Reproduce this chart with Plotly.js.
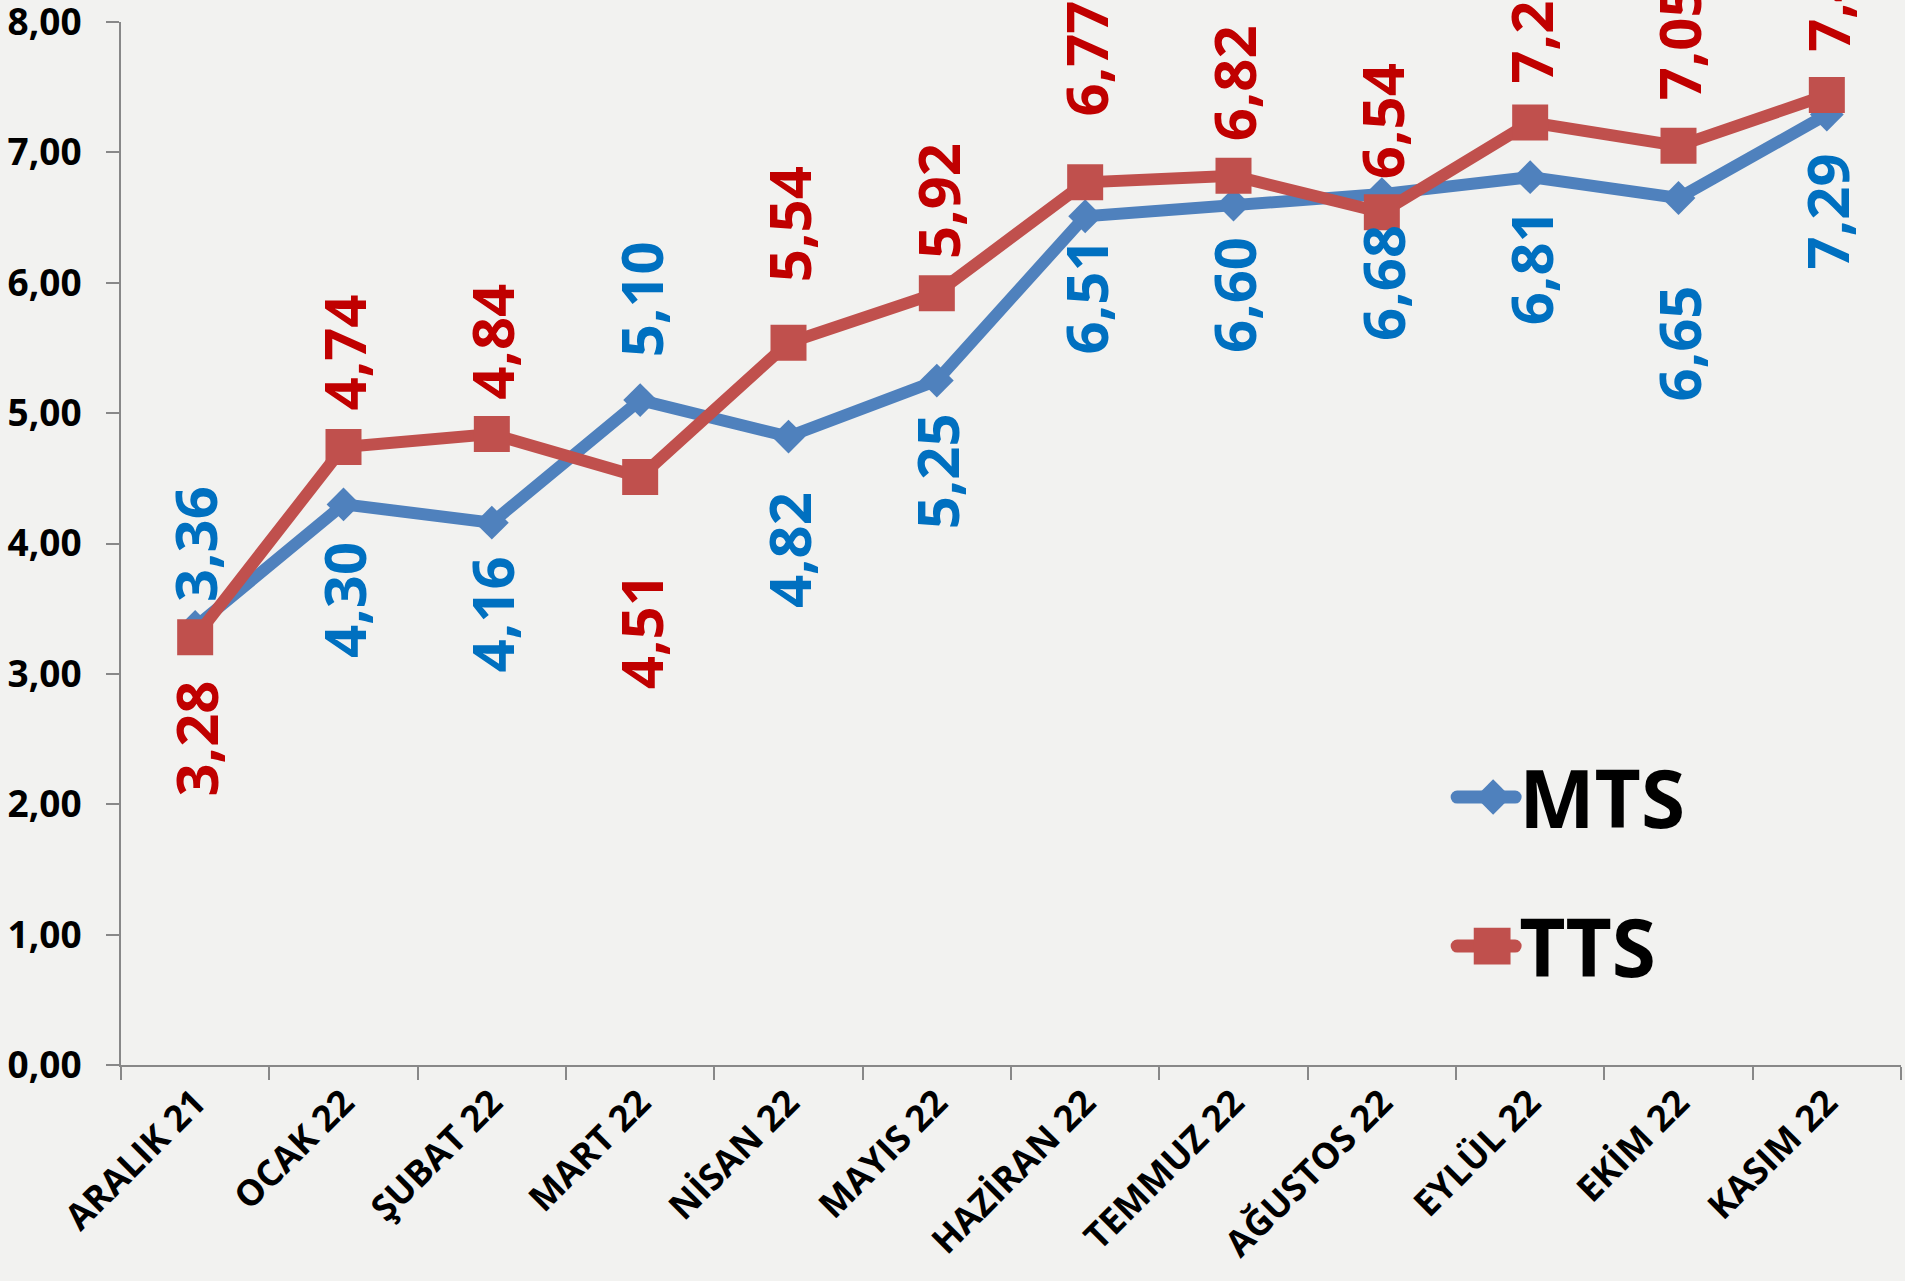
<!DOCTYPE html>
<html>
<head>
<meta charset="utf-8">
<script src="https://cdn.plot.ly/plotly-3.0.1.min.js"></script>
<style>
html,body{margin:0;padding:0;background:#f2f2f0;}
#chart{width:1905px;height:1281px;}
</style>
</head>
<body>
<div id="chart"></div>
<script>
// ---- data ----
var categories = ["ARALIK 21","OCAK 22","ŞUBAT 22","MART 22","NİSAN 22","MAYIS 22","HAZİRAN 22","TEMMUZ 22","AĞUSTOS 22","EYLÜL 22","EKİM 22","KASIM 22"];
var mtsValues = [3.36, 4.30, 4.16, 5.10, 4.82, 5.25, 6.51, 6.60, 6.68, 6.81, 6.65, 7.29];
var ttsValues = [3.28, 4.74, 4.84, 4.51, 5.54, 5.92, 6.77, 6.82, 6.54, 7.23, 7.05, 7.44];
var yTicks = [0,1,2,3,4,5,6,7,8];

// label vertical offsets (px, + = above the point) — label placement only
var mtsLabelShift = [83, -96, -92, 101, -114, -91, -80, -91, -89, -90, -146, -97];
var ttsLabelShift = [-101, 94, 92, -154, 118, 92, 124, 92, 91, 97, 103, 101];

var MTS_LINE = "#4F81BD", TTS_LINE = "#C0504D";
var MTS_TXT = "#0070C0", TTS_TXT = "#C00000";
var FONT = "Open Sans, Noto Sans, sans-serif";

function fmt(v){ return v.toFixed(2).replace('.', ','); }

var traces = [
  {
    type: "scatter", mode: "lines+markers", name: "MTS", legendgroup: "a",
    x: categories, y: mtsValues,
    line: {color: MTS_LINE, width: 12},
    marker: {symbol: "diamond", size: 26, color: MTS_LINE},
    hoverinfo: "skip"
  },
  {
    type: "scatter", mode: "lines+markers", name: "TTS", legendgroup: "b",
    x: categories, y: ttsValues,
    line: {color: TTS_LINE, width: 12},
    marker: {symbol: "square", size: 36, color: TTS_LINE},
    hoverinfo: "skip"
  }
];

var annotations = [];
function addLabels(vals, shifts, color){
  for (var i = 0; i < vals.length; i++) {
    annotations.push({
      xref: "x", yref: "y", x: categories[i], y: vals[i],
      text: fmt(vals[i]), showarrow: false, textangle: -90,
      yshift: shifts[i],
      font: {family: FONT, size: 58, color: color, weight: 700}
    });
  }
}
addLabels(mtsValues, mtsLabelShift, MTS_TXT);
addLabels(ttsValues, ttsLabelShift, TTS_TXT);

var layout = {
  width: 1905, height: 1281,
  margin: {l: 121, r: 4, t: 22, b: 216},
  paper_bgcolor: "#f2f2f0", plot_bgcolor: "rgba(0,0,0,0)",
  separators: ",.",
  showlegend: true,
  legend: {
    x: 0.763, y: 0.313, xanchor: "left", yanchor: "top",
    bgcolor: "rgba(0,0,0,0)", borderwidth: 0,
    traceorder: "grouped", tracegroupgap: 42,
    font: {family: FONT, size: 80, color: "#000000", weight: 700}
  },
  xaxis: {
    type: "category", range: [-0.5, 11.5],
    showline: true, linecolor: "#888888", linewidth: 2,
    ticks: "outside", tickson: "boundaries", ticklen: 13, tickcolor: "#888888", tickwidth: 2,
    showgrid: false, zeroline: false,
    tickangle: -45,
    tickfont: {family: FONT, size: 36, color: "#000000", weight: 700}
  },
  yaxis: {
    range: [0, 8], tickvals: yTicks, tickformat: ".2f",
    showline: true, linecolor: "#888888", linewidth: 2,
    ticks: "outside", ticklen: 13, tickcolor: "#888888", tickwidth: 2,
    showgrid: false, zeroline: false,
    ticklabelstandoff: 17, ticklabeloverflow: "allow",
    tickfont: {family: FONT, size: 37, color: "#000000", weight: 700}
  },
  annotations: annotations
};

function fixLegend(){
  var leg = document.querySelector("#chart .legend");
  if (!leg) return;
  leg.querySelectorAll("[clip-path]").forEach(function(el){ el.removeAttribute("clip-path"); });
  var items = leg.querySelectorAll(".traces");
  var pointScale = [1.7, 2.3];
  var pointX = [14, 13];
  items.forEach(function(it, idx){
    it.querySelectorAll(".legendlines path").forEach(function(p){
      p.setAttribute("d", "M-22,0h58");
      p.removeAttribute("transform");
      p.style.strokeWidth = "13px";
      p.style.strokeLinecap = "round";
    });
    var pts = it.querySelector(".legendpoints");
    if (pts) pts.setAttribute("transform", "translate(" + pointX[idx] + ",0) scale(" + pointScale[idx] + ") translate(-20,0)");
  });
}

Plotly.newPlot("chart", traces, layout, {displayModeBar: false, staticPlot: true}).then(function(){
  fixLegend();
  setTimeout(fixLegend, 300);
});
</script>
</body>
</html>
